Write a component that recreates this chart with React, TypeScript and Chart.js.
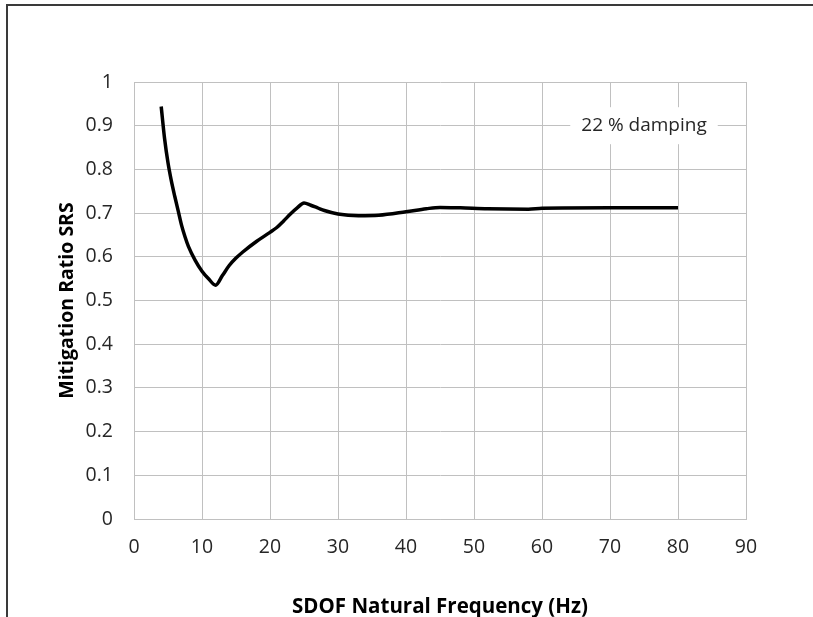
import { useEffect, useRef } from "react";
import { Chart, registerables } from "chart.js";

Chart.register(...registerables);

// SDOF natural frequency (Hz)
const freqHz = [4, 4.5, 5, 5.5, 6, 6.5, 7, 7.5, 8, 9, 10, 11, 12, 13, 14, 15, 16, 18, 20, 21, 22, 23, 24, 25, 26, 27, 28, 30, 33, 36, 40, 43, 45, 48, 52, 58, 60, 70, 80];
// Mitigation ratio SRS
const ratio = [0.944, 0.87, 0.815, 0.773, 0.738, 0.705, 0.672, 0.646, 0.624, 0.592, 0.567, 0.549, 0.535, 0.557, 0.58, 0.597, 0.611, 0.635, 0.656, 0.667, 0.682, 0.698, 0.712, 0.723, 0.718, 0.712, 0.706, 0.698, 0.694, 0.695, 0.703, 0.71, 0.713, 0.712, 0.71, 0.709, 0.711, 0.712, 0.712];

const xTitle = "SDOF Natural Frequency (Hz)";
const yTitle = "Mitigation Ratio SRS";
const annotationText = "22 % damping";
const annotationX = 75;
const annotationY = 0.9;

const FONT = "'Open Sans', sans-serif";

export default function App() {
  const ref = useRef<HTMLCanvasElement | null>(null);

  useEffect(() => {
    if (!ref.current) return;
    const annotationPlugin = {
      id: "dampingLabel",
      afterDraw(chart: any) {
        const { ctx, scales } = chart;
        const cx = scales.x.getPixelForValue(annotationX);
        const cy = scales.y.getPixelForValue(annotationY);
        ctx.save();
        ctx.font = `19px ${FONT}`;
        const w = ctx.measureText(annotationText).width + 22;
        const h = 37;
        ctx.fillStyle = "#ffffff";
        ctx.fillRect(cx - w / 2, cy - h / 2, w, h);
        ctx.fillStyle = "#262626";
        ctx.textAlign = "center";
        ctx.textBaseline = "middle";
        ctx.fillText(annotationText, cx, cy);
        ctx.restore();
      },
    };

    const chart = new Chart(ref.current, {
      type: "line",
      data: {
        datasets: [
          {
            data: freqHz.map((x, i) => ({ x, y: ratio[i] })),
            borderColor: "#000000",
            borderWidth: 3.5,
            pointRadius: 0,
            cubicInterpolationMode: "monotone",
            fill: false,
          },
        ],
      },
      options: {
        responsive: false,
        animation: false,
        layout: { padding: { top: 82, right: 67, left: 0, bottom: 0 } },
        plugins: { legend: { display: false }, tooltip: { enabled: false } },
        scales: {
          x: {
            type: "linear",
            min: 0,
            max: 90,
            ticks: { stepSize: 10, padding: 17, color: "#262626", font: { family: FONT, size: 19.5 } },
            grid: { color: "#c0c0c0", drawTicks: false, lineWidth: 1 },
            border: { color: "#c0c0c0" },
            title: {
              display: true,
              text: xTitle,
              color: "#000000",
              font: { family: FONT, size: 20.5, weight: "bold", lineHeight: 1 },
              padding: { top: 0, bottom: 0 },
            },
            afterFit(scale: any) {
              scale.height = 98;
            },
          },
          y: {
            min: 0,
            max: 1,
            ticks: {
              stepSize: 0.1,
              padding: 21,
              color: "#262626",
              font: { family: FONT, size: 19.5 },
              callback: (v: any) => String(Number(Number(v).toFixed(1))),
            },
            grid: { color: "#c0c0c0", drawTicks: false, lineWidth: 1 },
            border: { color: "#c0c0c0" },
            title: {
              display: true,
              text: yTitle,
              color: "#000000",
              font: { family: FONT, size: 19.5, weight: "bold", lineHeight: 1 },
              padding: { top: 58, bottom: 0 },
            },
            afterFit(scale: any) {
              scale.width = 134;
            },
          },
        },
      },
      plugins: [annotationPlugin],
    });
    return () => chart.destroy();
  }, []);

  return (
    <div style={{ position: "absolute", left: 0, top: 0, width: 813, height: 617, overflow: "hidden", background: "#ffffff" }}>
      <div
        style={{
          position: "absolute",
          left: 6,
          top: 4,
          width: 1000,
          height: 1000,
          border: "2px solid #3a3a3a",
          boxSizing: "border-box",
        }}
      />
      <canvas ref={ref} width={813} height={617} style={{ position: "absolute", left: 0, top: 0, display: "block" }} />
    </div>
  );
}
